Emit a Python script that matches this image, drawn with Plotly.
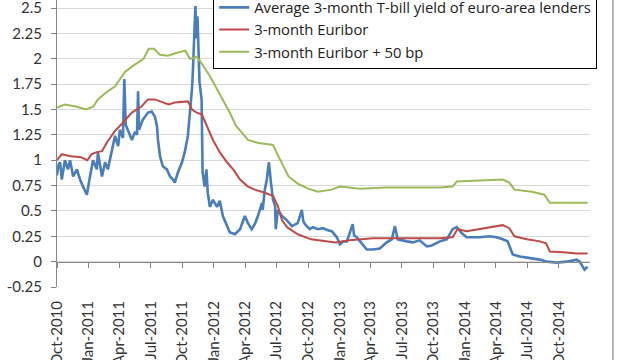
import plotly.graph_objects as go

# ---- data ----
tbill_dates = [
    "2010-10-01", "2010-10-05", "2010-10-10", "2010-10-15", "2010-10-24", "2010-11-02", "2010-11-08",
    "2010-11-17", "2010-11-28", "2010-12-07", "2010-12-16", "2010-12-27", "2011-01-05", "2011-01-14",
    "2011-01-25", "2011-01-28", "2011-02-09", "2011-02-18", "2011-02-26", "2011-03-10", "2011-03-19",
    "2011-03-28", "2011-04-02", "2011-04-11", "2011-04-15", "2011-04-19", "2011-04-25", "2011-05-01",
    "2011-05-07", "2011-05-16", "2011-05-22", "2011-05-25", "2011-05-28", "2011-06-08", "2011-06-23",
    "2011-07-04", "2011-07-13", "2011-07-19", "2011-07-22", "2011-07-28", "2011-08-05", "2011-08-17",
    "2011-08-26", "2011-09-04", "2011-09-09", "2011-09-18", "2011-09-30", "2011-10-08", "2011-10-17",
    "2011-10-23", "2011-10-29", "2011-11-01", "2011-11-04", "2011-11-08", "2011-11-11", "2011-11-14",
    "2011-11-20", "2011-11-26", "2011-11-29", "2011-12-05", "2011-12-10", "2011-12-14", "2011-12-20",
    "2011-12-29", "2012-01-10", "2012-01-18", "2012-01-27", "2012-02-08", "2012-02-16", "2012-03-02",
    "2012-03-17", "2012-03-31", "2012-04-09", "2012-04-20", "2012-04-29", "2012-05-08", "2012-05-20",
    "2012-05-22", "2012-05-28", "2012-06-03", "2012-06-09", "2012-06-15", "2012-06-21", "2012-06-27",
    "2012-06-29", "2012-07-05", "2012-07-17", "2012-07-31", "2012-08-15", "2012-09-01", "2012-09-13",
    "2012-09-17", "2012-09-22", "2012-10-06", "2012-10-15", "2012-10-30", "2012-11-13", "2012-11-28",
    "2012-12-09", "2012-12-24", "2013-01-02", "2013-01-12", "2013-01-22", "2013-02-08", "2013-02-12",
    "2013-02-20", "2013-03-01", "2013-03-21", "2013-04-08", "2013-04-28", "2013-05-18", "2013-06-02",
    "2013-06-11", "2013-06-19", "2013-07-16", "2013-08-02", "2013-08-22", "2013-09-12", "2013-09-26",
    "2013-10-20", "2013-11-09", "2013-11-26", "2013-12-08", "2013-12-23", "2014-01-06", "2014-02-13",
    "2014-03-14", "2014-04-03", "2014-04-21", "2014-05-05", "2014-05-20", "2014-06-09", "2014-06-30",
    "2014-08-07", "2014-08-27", "2014-09-25", "2014-10-24", "2014-11-22", "2014-12-01", "2014-12-15",
    "2014-12-24",
]
tbill_values = [
    0.85, 0.95, 0.98, 0.81, 1.00, 0.91, 1.00,
    0.84, 0.91, 0.81, 0.74, 0.66, 0.84, 1.00,
    0.91, 1.08, 0.84, 0.98, 0.91, 1.10, 1.24,
    1.14, 1.30, 1.22, 1.80, 1.35, 1.30, 1.24,
    1.20, 1.28, 1.25, 1.68, 1.30, 1.40, 1.47,
    1.48, 1.43, 1.34, 1.20, 1.04, 0.94, 0.91,
    0.84, 0.81, 0.78, 0.88, 0.98, 1.08, 1.24,
    1.47, 1.70, 1.90, 2.26, 2.52, 2.20, 2.42,
    1.77, 1.60, 0.88, 0.74, 0.91, 0.68, 0.54,
    0.61, 0.54, 0.60, 0.45, 0.35, 0.29, 0.27,
    0.32, 0.45, 0.38, 0.32, 0.37, 0.45, 0.58,
    0.51, 0.71, 0.81, 0.98, 0.78, 0.61, 0.55,
    0.32, 0.51, 0.45, 0.41, 0.35, 0.38, 0.51,
    0.40, 0.37, 0.32, 0.34, 0.32, 0.33, 0.31,
    0.30, 0.24, 0.17, 0.20, 0.20, 0.37, 0.26,
    0.24, 0.20, 0.12, 0.12, 0.13, 0.19, 0.22,
    0.35, 0.22, 0.20, 0.19, 0.21, 0.15, 0.16,
    0.20, 0.22, 0.32, 0.34, 0.28, 0.24, 0.24,
    0.25, 0.24, 0.22, 0.20, 0.07, 0.05, 0.04,
    0.02, 0.00, -0.01, 0.00, 0.02, 0.00, -0.08,
    -0.05,
]

euribor_dates = [
    "2010-10-01", "2010-10-15", "2010-11-10", "2010-12-10", "2010-12-28", "2011-01-10", "2011-01-25",
    "2011-02-09", "2011-02-26", "2011-03-19", "2011-04-08", "2011-04-28", "2011-05-07", "2011-06-04",
    "2011-06-23", "2011-07-13", "2011-08-03", "2011-08-22", "2011-09-09", "2011-10-06", "2011-10-17",
    "2011-10-29", "2011-11-12", "2011-11-27", "2011-12-11", "2011-12-29", "2012-01-18", "2012-02-08",
    "2012-02-26", "2012-03-17", "2012-04-09", "2012-04-29", "2012-05-28", "2012-06-21", "2012-07-05",
    "2012-07-17", "2012-08-01", "2012-09-01", "2012-10-10", "2012-11-20", "2012-12-20", "2013-01-30",
    "2013-04-08", "2013-06-10", "2013-08-10", "2013-10-20", "2013-11-26", "2013-12-10", "2014-01-06",
    "2014-02-13", "2014-03-20", "2014-04-21", "2014-05-10", "2014-05-25", "2014-06-30", "2014-08-07",
    "2014-08-25", "2014-09-05", "2014-10-24", "2014-11-22", "2014-12-24",
]
euribor_values = [
    1.00, 1.06, 1.04, 1.03, 1.00, 1.06, 1.08,
    1.09, 1.19, 1.29, 1.36, 1.43, 1.47, 1.53,
    1.60, 1.60, 1.57, 1.55, 1.57, 1.58, 1.58,
    1.50, 1.47, 1.45, 1.34, 1.20, 1.08, 0.98,
    0.91, 0.81, 0.74, 0.71, 0.68, 0.65, 0.55,
    0.41, 0.34, 0.27, 0.22, 0.20, 0.19, 0.21,
    0.23, 0.23, 0.23, 0.23, 0.24, 0.32, 0.30,
    0.32, 0.34, 0.36, 0.33, 0.25, 0.22, 0.20,
    0.18, 0.10, 0.09, 0.08, 0.08,
]

euribor50_dates = [
    "2010-10-01", "2010-10-24", "2010-11-25", "2010-12-25", "2011-01-15", "2011-01-28", "2011-02-22",
    "2011-03-19", "2011-04-17", "2011-05-10", "2011-06-10", "2011-06-25", "2011-07-10", "2011-07-28",
    "2011-08-20", "2011-09-15", "2011-10-10", "2011-10-23", "2011-11-12", "2011-11-21", "2011-12-20",
    "2012-01-10", "2012-01-27", "2012-02-16", "2012-03-05", "2012-03-25", "2012-04-09", "2012-05-10",
    "2012-06-21", "2012-07-05", "2012-07-15", "2012-08-05", "2012-09-01", "2012-10-01", "2012-10-30",
    "2012-12-09", "2013-01-02", "2013-03-01", "2013-05-15", "2013-08-01", "2013-10-20", "2013-11-26",
    "2013-12-08", "2014-02-13", "2014-04-21", "2014-05-10", "2014-05-25", "2014-07-15", "2014-08-20",
    "2014-09-05", "2014-12-24",
]
euribor50_values = [
    1.52, 1.55, 1.53, 1.50, 1.53, 1.60, 1.67,
    1.73, 1.87, 1.93, 2.00, 2.10, 2.10, 2.04,
    2.03, 2.06, 2.08, 2.00, 2.02, 1.98, 1.83,
    1.70, 1.60, 1.47, 1.34, 1.26, 1.20, 1.17,
    1.15, 1.05, 0.98, 0.84, 0.77, 0.72, 0.69,
    0.71, 0.74, 0.72, 0.73, 0.73, 0.73, 0.74,
    0.79, 0.80, 0.81, 0.78, 0.71, 0.69, 0.66,
    0.58, 0.58,
]

series_names = [
    "Average 3-month T-bill yield of euro-area lenders",
    "3-month Euribor",
    "3-month Euribor + 50 bp",
]
y_ticks = [-0.25, 0, 0.25, 0.5, 0.75, 1, 1.25, 1.5, 1.75, 2, 2.25, 2.5]
y_tick_text = ["-0.25", "0", "0.25", "0.5", "0.75", "1", "1.25", "1.5", "1.75", "2", "2.25", "2.5"]
x_range = ["2010-10-01", "2014-12-31"]
y_range = [-0.25, 2.58]

FONT = "Lato"

fig = go.Figure()
fig.add_trace(go.Scatter(x=tbill_dates, y=tbill_values, name=series_names[0], mode="lines",
                         line=dict(color="#4a7ebb", width=2.6)))
fig.add_trace(go.Scatter(x=euribor_dates, y=euribor_values, name=series_names[1], mode="lines",
                         line=dict(color="#be4b48", width=2)))
fig.add_trace(go.Scatter(x=euribor50_dates, y=euribor50_values, name=series_names[2], mode="lines",
                         line=dict(color="#9bbb59", width=2), xaxis="x2"))

zero_pos = (0 - y_range[0]) / (y_range[1] - y_range[0])

fig.update_layout(
    width=620, height=360,
    margin=dict(l=57, r=30, t=0, b=73, autoexpand=False),
    paper_bgcolor="white", plot_bgcolor="white",
    font=dict(family=FONT, size=14, color="#333333"),
    showlegend=True,
    legend=dict(
        x=0.293, y=1.034, xanchor="left", yanchor="top",
        bgcolor="white", bordercolor="#000000", borderwidth=1,
        font=dict(family="Open Sans", size=14.8, color="#222222"),
        tracegroupgap=0, itemwidth=30,
    ),
    xaxis=dict(
        type="date", range=x_range, dtick="M3", tick0="2010-10-01",
        tickformat="%b-%Y", tickangle=-90, ticks="", showgrid=False,
        showline=False, zeroline=False, ticklabelstandoff=10, automargin=False,
        ticklabeloverflow="allow",
        tickfont=dict(family=FONT, size=15, color="#333333"),
    ),
    xaxis2=dict(
        type="date", overlaying="x", matches="x", anchor="free", position=zero_pos,
        dtick="M3", tick0="2010-10-01", showticklabels=False, ticks="outside",
        ticklen=5, tickcolor="#888888", showline=True, linecolor="#888888", linewidth=1,
        showgrid=False, zeroline=False,
    ),
    yaxis=dict(
        range=y_range, tickvals=y_ticks, ticktext=y_tick_text,
        showgrid=True, gridcolor="#d9d9d9", gridwidth=1, zeroline=False,
        showline=True, linecolor="#888888", linewidth=1, ticks="outside",
        ticklen=5, tickcolor="#888888", automargin=False, ticklabeloverflow="allow",
        ticklabelstandoff=6,
        tickfont=dict(family=FONT, size=15, color="#333333"),
    ),
    shapes=[dict(type="line", xref="paper", yref="paper", x0=1.043, x1=1.043, y0=-0.3, y1=1.1,
                 line=dict(color="#a0a0a0", width=1.5))],
)

fig.write_html("out.html", config={"displayModeBar": False},
               post_script="document.body.style.margin='0';")
